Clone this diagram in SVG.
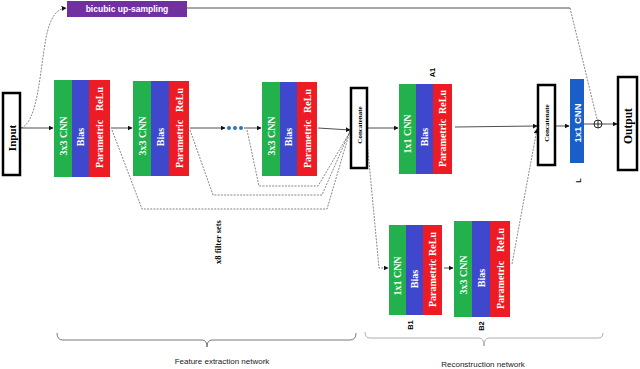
<svg xmlns="http://www.w3.org/2000/svg" width="640" height="369" viewBox="0 0 640 369">
<style>
.g{fill:#22b14c}.b{fill:#3f48cc}.r{fill:#ed1c24}
.bt{font-family:"Liberation Serif",serif;font-weight:bold;font-size:10px;fill:#fff}
.st{font-family:"Liberation Serif",serif;font-weight:bold;fill:#000}
.lb{font-family:"Liberation Sans",sans-serif;font-weight:bold;font-size:7.5px;fill:#000}
.box{fill:#fff;stroke:#000;stroke-width:2.5}
.solid{fill:none;stroke:#222;stroke-width:0.8}
.dash{fill:none;stroke:#555;stroke-width:0.7;stroke-dasharray:2,1.2}
.cap{font-family:"Liberation Sans",sans-serif;font-size:8px;fill:#222}
</style>
<defs>
<marker id="ah" viewBox="0 0 8 8" refX="7" refY="4" markerWidth="5" markerHeight="5" orient="auto" markerUnits="userSpaceOnUse">
<path d="M0,0 L8,4 L0,8 z" fill="#111"/>
</marker>
</defs>

<g id="connectors">
<path class="dash" d="M21,128 C38,122 40,70 46,38 C50,18 56,9 66,8" marker-end="url(#ah)"/>
<path class="solid" d="M187,8 L570,8" stroke="#555"/>
<path class="dash" d="M570,8 L597,119"/>
<path class="solid" d="M21,128 L53,128" marker-end="url(#ah)"/>
<path class="solid" d="M111,128 L132,128" marker-end="url(#ah)"/>
<path class="solid" d="M190,128 L225,128" marker-end="url(#ah)"/>
<path class="solid" d="M244,128 L261,128" marker-end="url(#ah)"/>
<path class="solid" d="M318,128 L350,130" marker-end="url(#ah)"/>
<path class="dash" d="M112,130 L142,209 L327,209 L350,131"/>
<path class="dash" d="M190,130 L213,195 L322,195 L350,131"/>
<path class="dash" d="M247,130 L259,186 L318,186 L350,132"/>
<path class="solid" d="M367,128 L398,128" marker-end="url(#ah)"/>
<path class="solid" d="M455,127 L537,126" marker-end="url(#ah)"/>
<path class="solid" d="M555,126 L569,126" marker-end="url(#ah)"/>
<path class="solid" d="M584,124 L594,124"/>
<path class="solid" d="M602,124 L617,124" marker-end="url(#ah)"/>
<path class="dash" d="M366,130 L379,268 L388,268" marker-end="url(#ah)"/>
<path class="solid" d="M444,268 L453,268" marker-end="url(#ah)"/>
<path class="dash" d="M512,264 L537,129" marker-end="url(#ah)"/>
</g>

<g id="bicubic">
<rect x="67" y="1" width="120" height="16" fill="#7030a0"/>
<text x="127" y="12" text-anchor="middle" font-family="Liberation Sans,sans-serif" font-weight="bold" font-size="8.5" fill="#fff">bicubic up-sampling</text>
</g>

<g id="input">
<rect class="box" x="3" y="93" width="17" height="82"/>
<text class="st" font-size="11" text-anchor="middle" transform="translate(15.5,138) rotate(-90)">Input</text>
</g>

<g id="block1">
<rect class="g" x="54" y="80" width="18" height="97"/>
<rect class="b" x="72" y="80" width="17" height="97"/>
<rect class="r" x="89" y="80" width="21" height="97"/>
<text class="bt" text-anchor="middle" transform="translate(66.5,136) rotate(-90)">3x3 CNN</text>
<text class="bt" text-anchor="middle" transform="translate(84,137) rotate(-90)">Bias</text>
<text class="bt" text-anchor="start" transform="translate(103,168) rotate(-90)">Parametric</text>
<text class="bt" text-anchor="end" transform="translate(103,87) rotate(-90)">ReLu</text>
</g>

<g id="block2">
<rect class="g" x="133" y="81" width="18" height="95"/>
<rect class="b" x="151" y="81" width="18" height="95"/>
<rect class="r" x="169" y="81" width="20" height="95"/>
<text class="bt" text-anchor="middle" transform="translate(145.5,136) rotate(-90)">3x3 CNN</text>
<text class="bt" text-anchor="middle" transform="translate(163.5,137) rotate(-90)">Bias</text>
<text class="bt" text-anchor="start" transform="translate(182.5,168) rotate(-90)">Parametric</text>
<text class="bt" text-anchor="end" transform="translate(182.5,88) rotate(-90)">ReLu</text>
</g>

<g id="dots" fill="#2e75b6">
<circle cx="229" cy="128" r="2"/>
<circle cx="235" cy="128" r="2"/>
<circle cx="241" cy="128" r="2"/>
</g>

<g id="block3">
<rect class="g" x="262" y="82" width="18" height="94"/>
<rect class="b" x="280" y="82" width="17" height="94"/>
<rect class="r" x="297" y="82" width="20" height="94"/>
<text class="bt" text-anchor="middle" transform="translate(274.5,136) rotate(-90)">3x3 CNN</text>
<text class="bt" text-anchor="middle" transform="translate(292,137) rotate(-90)">Bias</text>
<text class="bt" text-anchor="start" transform="translate(310.5,168) rotate(-90)">Parametric</text>
<text class="bt" text-anchor="end" transform="translate(310.5,89) rotate(-90)">ReLu</text>
</g>

<g id="concat1">
<rect class="box" x="351" y="88" width="16" height="80"/>
<text class="st" font-size="7" text-anchor="middle" transform="translate(361.5,125) rotate(-90)">Concatenate</text>
</g>

<g id="blockA1">
<rect class="g" x="399" y="84" width="17" height="90"/>
<rect class="b" x="416" y="84" width="17" height="90"/>
<rect class="r" x="433" y="84" width="19" height="90"/>
<text class="bt" text-anchor="middle" transform="translate(411,134) rotate(-90)">1x1 CNN</text>
<text class="bt" text-anchor="middle" transform="translate(428,137) rotate(-90)">Bias</text>
<text class="bt" text-anchor="start" transform="translate(446,167) rotate(-90)">Parametric</text>
<text class="bt" text-anchor="end" transform="translate(446,90) rotate(-90)">ReLu</text>
<text class="lb" text-anchor="middle" transform="translate(434.5,72.5) rotate(-90)">A1</text>
</g>

<g id="blockB1">
<rect class="g" x="389" y="225" width="17" height="90"/>
<rect class="b" x="406" y="225" width="17" height="90"/>
<rect class="r" x="423" y="225" width="19" height="90"/>
<text class="bt" text-anchor="middle" transform="translate(401,276) rotate(-90)">1x1 CNN</text>
<text class="bt" text-anchor="middle" transform="translate(418,279) rotate(-90)">Bias</text>
<text class="bt" text-anchor="start" transform="translate(436,307) rotate(-90)">Parametric</text>
<text class="bt" text-anchor="end" transform="translate(436,232) rotate(-90)">ReLu</text>
<text class="lb" text-anchor="middle" transform="translate(413,325) rotate(-90)">B1</text>
</g>

<g id="blockB2">
<rect class="g" x="454" y="221" width="18" height="96"/>
<rect class="b" x="472" y="221" width="18" height="96"/>
<rect class="r" x="490" y="221" width="20" height="96"/>
<text class="bt" text-anchor="middle" transform="translate(466.5,275) rotate(-90)">3x3 CNN</text>
<text class="bt" text-anchor="middle" transform="translate(484.5,278) rotate(-90)">Bias</text>
<text class="bt" text-anchor="start" transform="translate(503.5,309) rotate(-90)">Parametric</text>
<text class="bt" text-anchor="end" transform="translate(503.5,228) rotate(-90)">ReLu</text>
<text class="lb" text-anchor="middle" transform="translate(484,326) rotate(-90)">B2</text>
</g>

<g id="concat2">
<rect class="box" x="538" y="85" width="17" height="80"/>
<text class="st" font-size="7" text-anchor="middle" transform="translate(549,123) rotate(-90)">Concatenate</text>
</g>

<g id="blockL">
<rect x="570" y="79" width="14" height="84" fill="#1a5fc8"/>
<text text-anchor="middle" font-family="Liberation Sans,sans-serif" font-weight="bold" font-size="9.5" fill="#fff" transform="translate(580.5,123) rotate(-90)">1x1 CNN</text>
<text class="lb" text-anchor="middle" transform="translate(580.5,180.5) rotate(-90)">L</text>
</g>

<g id="plus">
<circle cx="598" cy="124" r="4" fill="#fff" stroke="#111" stroke-width="0.9"/>
<path d="M594,124 H602 M598,120 V128" stroke="#111" stroke-width="0.9"/>
</g>

<g id="output">
<rect class="box" x="618" y="77" width="19" height="93"/>
<text class="st" font-size="11.5" text-anchor="middle" transform="translate(631.5,126) rotate(-90)">Output</text>
</g>

<g id="filterlabel">
<text class="st" font-size="8.5" text-anchor="middle" transform="translate(221,242) rotate(-90)">x8 filter sets</text>
</g>

<g id="braces">
<path d="M57,333 Q57,340 63,340 L202,340 Q207,340 207,347 Q207,340 212,340 L350,340 Q356,340 356,333" fill="none" stroke="#555" stroke-width="0.8"/>
<text class="cap" x="222" y="364" text-anchor="middle">Feature extraction network</text>
<path d="M365,332 Q365,338 370,338 L479,338 Q484,338 484,346 Q484,338 489,338 L598,338 Q603,338 603,333" fill="none" stroke="#999" stroke-width="0.8"/>
<text class="cap" x="483" y="367" text-anchor="middle">Reconstruction network</text>
</g>
</svg>
